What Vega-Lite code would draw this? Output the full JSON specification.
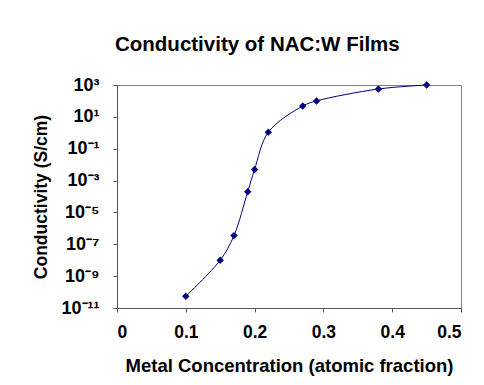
{
  "$schema": "https://vega.github.io/schema/vega-lite/v6.json",
  "width": 344,
  "height": 223,
  "autosize": "none",
  "padding": {"left": 117, "top": 85, "right": 23, "bottom": 77},
  "background": "white",
  "title": {
    "text": "Conductivity of NAC:W Films",
    "anchor": "start",
    "frame": "group",
    "dx": -2,
    "offset": 5,
    "baseline": "alphabetic",
    "font": "Liberation Sans",
    "fontSize": 20.5,
    "fontWeight": "bold",
    "color": "black"
  },
  "config": {
    "view": {"stroke": "#808080", "strokeWidth": 1},
    "axis": {
      "labelFont": "Liberation Sans",
      "labelFontWeight": "bold",
      "labelColor": "black",
      "titleFont": "Liberation Sans",
      "titleFontWeight": "bold",
      "titleColor": "black",
      "domainColor": "#555555",
      "tickColor": "#555555",
      "grid": false
    }
  },
  "data": {
    "values": [
      {"x": 0.10, "y": 5.5e-11},
      {"x": 0.15, "y": 1.0e-8},
      {"x": 0.17, "y": 3.5e-7},
      {"x": 0.19, "y": 2.0e-4},
      {"x": 0.20, "y": 5.0e-3},
      {"x": 0.22, "y": 1.1},
      {"x": 0.27, "y": 48},
      {"x": 0.29, "y": 100},
      {"x": 0.38, "y": 560},
      {"x": 0.45, "y": 1000}
    ]
  },
  "encoding": {
    "x": {
      "field": "x",
      "type": "quantitative",
      "scale": {"domain": [0, 0.5], "nice": false, "zero": false},
      "axis": {
        "values": [0, 0.1, 0.2, 0.3, 0.4, 0.5],
        "labelExpr": "datum.value == 0 ? '0' : format(datum.value, '.1f')",
        "labelFontSize": 17.5,
        "labelPadding": 11,
        "tickSize": 4,
        "title": "Metal Concentration (atomic fraction)",
        "titleFontSize": 18.5,
        "titlePadding": 16
      }
    },
    "y": {
      "field": "y",
      "type": "quantitative",
      "scale": {"type": "log", "domain": [1e-11, 1000], "nice": false},
      "axis": {
        "values": [1e-11, 1e-9, 1e-7, 1e-5, 1e-3, 1e-1, 10, 1000],
        "labelExpr": "datum.value > 100 ? '10³' : datum.value > 1 ? '10¹' : datum.value > 0.01 ? '10⁻¹' : datum.value > 1e-4 ? '10⁻³' : datum.value > 1e-6 ? '10⁻⁵' : datum.value > 1e-8 ? '10⁻⁷' : datum.value > 1e-10 ? '10⁻⁹' : '10⁻¹¹'",
        "labelFontSize": 18,
        "labelPadding": 14,
        "tickSize": 4,
        "title": "Conductivity (S/cm)",
        "titleFontSize": 17.5,
        "titlePadding": 10
      }
    }
  },
  "layer": [
    {
      "mark": {"type": "line", "interpolate": "catmull-rom", "color": "#000080", "strokeWidth": 1}
    },
    {
      "mark": {"type": "point", "shape": "diamond", "filled": true, "color": "#000080", "size": 55, "opacity": 1}
    }
  ]
}
